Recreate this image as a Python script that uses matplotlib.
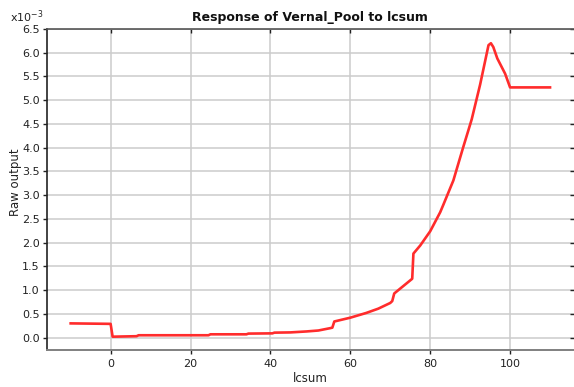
import matplotlib
matplotlib.use("Agg")
import matplotlib.pyplot as plt

# Response curve of Vernal_Pool to lcsum (raw output, in units of 1e-3)
lcsum = [-10, 0, 0.5, 6.5, 7, 24.5, 25, 34, 34.5, 40.5, 41, 45, 49, 52, 55,
         55.5, 56, 60, 64, 67, 70, 70.5, 71, 75.5, 75.8, 77.5, 80, 82.5, 83.3,
         85.8, 88.3, 89.5, 90.4, 92.5, 94.6, 95.2, 95.8, 96.8, 98.75, 100, 110]
raw_output_e3 = [0.30, 0.29, 0.02, 0.03, 0.05, 0.05, 0.07, 0.07, 0.085, 0.09,
                 0.105, 0.11, 0.13, 0.15, 0.20, 0.21, 0.34, 0.42, 0.52, 0.61,
                 0.73, 0.77, 0.93, 1.24, 1.77, 1.94, 2.24, 2.64, 2.80, 3.31,
                 4.02, 4.35, 4.60, 5.33, 6.16, 6.20, 6.12, 5.88, 5.56, 5.27,
                 5.27]
x_ticks = [0, 20, 40, 60, 80, 100]
y_ticks = [0.0, 0.5, 1.0, 1.5, 2.0, 2.5, 3.0, 3.5, 4.0, 4.5, 5.0, 5.5, 6.0, 6.5]

plt.rcParams['font.family'] = ['DejaVu Sans']

W, H = 574, 387
fig = plt.figure(figsize=(W / 100, H / 100), dpi=100)
ax = fig.add_axes([46.7 / W, (H - 349.5) / H, (W - 46.7) / W, (349.5 - 29) / H])

ax.plot(lcsum, raw_output_e3, color='#ff2c2c', lw=1.9, solid_joinstyle='round')

ax.set_xlim(-16, 116)
ax.set_ylim(-0.25, 6.5)
ax.set_xticks(x_ticks)
ax.set_yticks(y_ticks)
ax.set_yticklabels([f"{v:.1f}" for v in y_ticks])
ax.grid(True, color='#cccccc', lw=1.1)
ax.set_axisbelow(True)

ax.tick_params(axis='both', labelsize=8, colors='#222222', length=3, width=1)
ax.tick_params(axis='x', direction='out', pad=4)
ax.tick_params(axis='y', direction='out', pad=2)
ax.tick_params(top=True, right=True, labeltop=False, labelright=False)
for t in ax.xaxis.get_major_ticks():
    t.tick2line.set_marker(3)
for t in ax.yaxis.get_major_ticks():
    t.tick2line.set_marker(0)

ax.spines['left'].set_color('#222222')
ax.spines['left'].set_linewidth(1.2)
ax.spines['bottom'].set_color('#808080')
ax.spines['bottom'].set_linewidth(1.4)
ax.spines['top'].set_color('#555555')
ax.spines['top'].set_linewidth(1.2)
ax.spines['right'].set_visible(False)

fig.text(310 / W, 1 - 17 / H, 'Response of Vernal_Pool to lcsum', ha='center',
         va='center', fontsize=9, fontweight='bold', color='#111111')
fig.text(10 / W, 1 - 17 / H, r'x10$^{-3}$', ha='left', va='center',
         fontsize=8, color='#222222')
fig.text(16 / W, 1 - 182 / H, 'Raw output', rotation=90, ha='center',
         va='center', fontsize=8.5, color='#222222')
fig.text(310 / W, 1 - 378 / H, 'lcsum', ha='center', va='center',
         fontsize=8.5, color='#222222')

fig.savefig('out.png', dpi=100)
